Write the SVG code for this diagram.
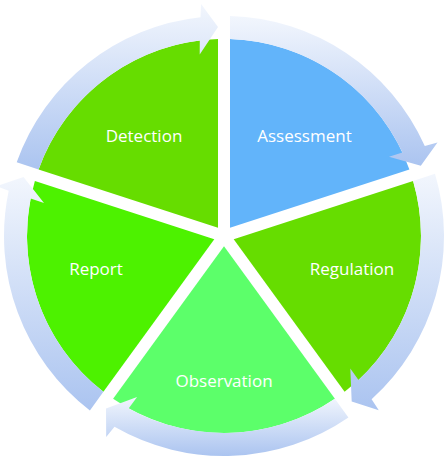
<svg xmlns="http://www.w3.org/2000/svg" width="448" height="460" viewBox="0 0 448 460">
<style>
.lbl{font-family:"Open Sans","Liberation Sans",sans-serif;font-size:17px;fill:#ffffff;text-anchor:middle}
.arrow{fill:url(#ag)}
</style>
<defs>
<linearGradient id="ag" x1="0" y1="0" x2="0" y2="1">
<stop offset="0" stop-color="#f2f6fd"/>
<stop offset="1" stop-color="#abc4f0"/>
</linearGradient>
</defs>
<rect width="448" height="460" fill="#ffffff"/>
<g id="assessment">
<path d="M230 227.7 L230 39.1 A197 197 0 0 1 409.4 169.4 Z" fill="#62b4fa"/>
<text class="lbl" x="304.5" y="142">Assessment</text>
</g>
<g id="regulation">
<path d="M233.7 239.2 L413.1 180.9 A197 197 0 0 1 344.6 391.8 Z" fill="#66dd00"/>
<text class="lbl" x="352" y="275">Regulation</text>
</g>
<g id="observation">
<path d="M224 246.2 L334.9 398.8 A197 197 0 0 1 113.1 398.8 Z" fill="#5cff6a"/>
<text class="lbl" x="224" y="387">Observation</text>
</g>
<g id="report">
<path d="M214.3 239.2 L103.4 391.8 A197 197 0 0 1 34.9 180.9 Z" fill="#4df200"/>
<text class="lbl" x="96" y="275">Report</text>
</g>
<g id="detection">
<path d="M218 227.7 L38.6 169.4 A197 197 0 0 1 218 39.1 Z" fill="#66dd00"/>
<text class="lbl" x="144" y="142">Detection</text>
</g>
<g id="connectors">
<path class="arrow" d="M230 16.1 A220 220 0 0 1 424.8 146 L437.5 142.6 L420.8 165.8 L389 156.8 L402.5 152.6 A197 197 0 0 0 230 39.1 Z"/>
<path class="arrow" d="M435 173.7 A220 220 0 0 1 371.6 399.2 L378.8 410.2 L351.7 401.5 L350.3 368.4 L358.5 380 A197 197 0 0 0 413.1 180.9 Z"/>
<path class="arrow" d="M348.4 417.5 A220 220 0 0 1 114.5 426.8 L106.2 437.1 L106 408.5 L137.1 397 L128.6 408.4 A197 197 0 0 0 334.9 398.8 Z"/>
<path class="arrow" d="M89.9 410.4 A220 220 0 0 1 8.7 190.8 L-3.6 186.1 L23.5 177.1 L44 203.1 L30.6 198.5 A197 197 0 0 0 103.4 391.8 Z"/>
<path class="arrow" d="M16.7 162.3 A220 220 0 0 1 200.5 17.3 L201.1 4.1 L218 27.1 L199.7 54.6 L199.8 40.5 A197 197 0 0 0 38.6 169.4 Z"/>
</g>
</svg>
